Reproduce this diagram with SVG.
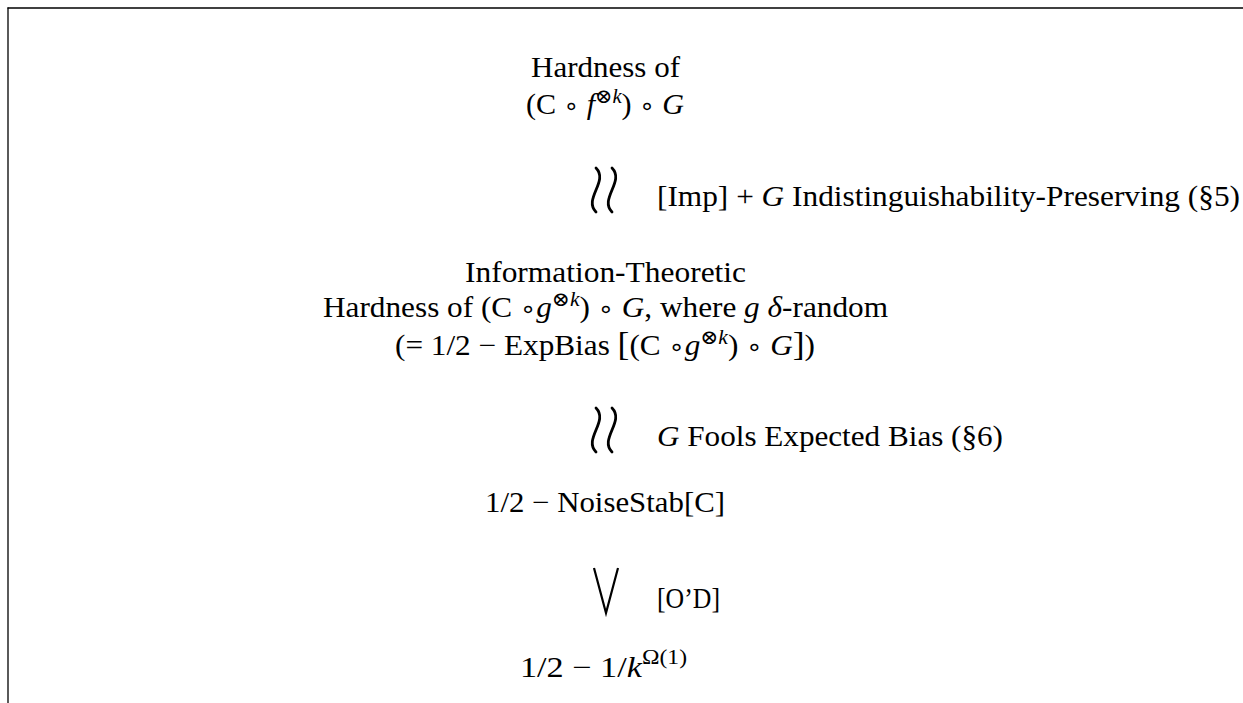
<svg xmlns="http://www.w3.org/2000/svg" width="1243" height="703" viewBox="0 0 1243 703">
<style>
text { font-family: "Liberation Serif", "DejaVu Serif", serif; font-size: 29px; fill: #000; }
.i { font-style: italic; }
.sup { font-size: 20px; }
.op { font-family: "DejaVu Sans", sans-serif; font-size: 24px; }
.conn { fill: none; stroke: #000; stroke-linecap: round; stroke-width: 2.8; }
.vee { fill: none; stroke: #000; stroke-width: 2.2; stroke-linejoin: miter; }
.frame { stroke: #000; stroke-width: 1.3; fill: none; }
</style>
<g id="frame">
<line class="frame" x1="7.5" y1="8" x2="1243" y2="8"/>
<line class="frame" x1="8" y1="7.5" x2="8" y2="703"/>
</g>
<g id="node-hardness-f">
<text x="531" y="77" textLength="149" lengthAdjust="spacingAndGlyphs">Hardness of</text>
<text x="526" y="114" textLength="158" lengthAdjust="spacingAndGlyphs">(C <tspan class="op">∘</tspan> <tspan class="i">f</tspan><tspan class="sup" dy="-11">⊗<tspan class="i">k</tspan></tspan><tspan dy="11">) </tspan><tspan class="op">∘</tspan> <tspan class="i">G</tspan></text>
</g>
<g id="node-info-theoretic">
<text x="465" y="282" textLength="281" lengthAdjust="spacingAndGlyphs">Information-Theoretic</text>
<text x="323" y="317" textLength="565" lengthAdjust="spacingAndGlyphs">Hardness of (C <tspan class="op">∘</tspan><tspan class="i">g</tspan><tspan class="sup" dy="-11">⊗<tspan class="i">k</tspan></tspan><tspan dy="11">) </tspan><tspan class="op">∘</tspan> <tspan class="i">G</tspan>, where <tspan class="i">g δ</tspan>-random</text>
<text x="395" y="355" textLength="420" lengthAdjust="spacingAndGlyphs">(= 1/2 − ExpBias <tspan font-size="33">[</tspan>(C <tspan class="op">∘</tspan><tspan class="i">g</tspan><tspan class="sup" dy="-11">⊗<tspan class="i">k</tspan></tspan><tspan dy="11">) </tspan><tspan class="op">∘</tspan> <tspan class="i">G</tspan><tspan font-size="33">]</tspan>)</text>
</g>
<g id="node-noisestab">
<text x="485" y="512" textLength="240" lengthAdjust="spacingAndGlyphs">1/2 − NoiseStab[C]</text>
</g>
<g id="node-bound">
<text x="520" y="677" textLength="167" lengthAdjust="spacingAndGlyphs">1/2 − 1/<tspan class="i">k</tspan><tspan class="sup" dy="-13">Ω(1)</tspan></text>
</g>
<g id="connectors">
<g id="conn-1">
<path class="conn" d="M596,168 C609,181 583,199 596,212"/>
<path class="conn" d="M612,168 C625,181 599,199 612,212"/>
<text x="657" y="206" textLength="583" lengthAdjust="spacingAndGlyphs">[Imp] + <tspan class="i">G</tspan> Indistinguishability-Preserving (§5)</text>
</g>
<g id="conn-2">
<path class="conn" d="M596,408 C609,421 583,439 596,452"/>
<path class="conn" d="M612,408 C625,421 599,439 612,452"/>
<text x="657" y="446" textLength="346" lengthAdjust="spacingAndGlyphs"><tspan class="i">G</tspan> Fools Expected Bias (§6)</text>
</g>
<g id="conn-3">
<path class="vee" d="M594,568 L606,613 L618,568"/>
<text x="657" y="608" textLength="63" lengthAdjust="spacingAndGlyphs">[O’D]</text>
</g>
</g>
</svg>
